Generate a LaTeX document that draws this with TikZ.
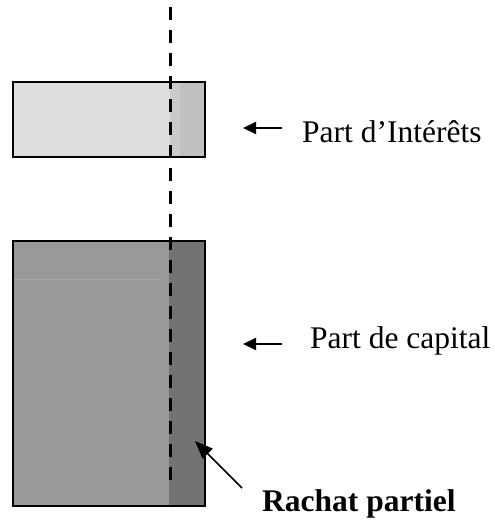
\documentclass[tikz,border=0pt]{standalone}
\usepackage{fontspec}
\setmainfont{Liberation Serif}
\usetikzlibrary{arrows.meta}
\begin{document}
\begin{tikzpicture}[x=1pt,y=-1pt,
  label/.style={anchor=base west,inner sep=0pt,font=\fontsize{31.5}{36}\selectfont},
  frame/.style={draw=black,line width=2pt},
  pointer/.style={line width=2pt,-{Triangle[length=13pt,width=12pt]}},
  cut/.style={line width=3pt,dash pattern=on 13pt off 10pt}]
\useasboundingbox (0,0) rectangle (495,522);

% interest block
\fill[fill={rgb,255:red,222;green,222;blue,222}] (13,82) rectangle (170,157);
\fill[fill={rgb,255:red,202;green,202;blue,202}] (170,82) rectangle (180,157);
\fill[fill={rgb,255:red,192;green,192;blue,192}] (180,82) rectangle (205,157);
\node[frame,minimum width=192pt,minimum height=75pt,inner sep=0pt] (interets) at (109,119.5) {};

% capital block
\fill[fill={rgb,255:red,153;green,153;blue,153}] (13,241) rectangle (169,506);
\fill[fill={rgb,255:red,115;green,115;blue,115}] (169,241) rectangle (205,506);
\draw[line width=1pt,color={rgb,255:red,165;green,165;blue,165}] (14,279) -- (162,279);
\node[frame,minimum width=192pt,minimum height=265pt,inner sep=0pt] (capital) at (109,373.5) {};

% cut line
\coordinate (cuttop) at (170,7);
\coordinate (cutbot) at (170,486);
\draw[cut] (cuttop) -- (cutbot);

% labels
\node[label] (tinterets) at (302,142) {Part d’Intérêts};
\node[label] (tcapital) at (310,348) {Part de capital};
\node[label,font=\fontsize{31.5}{36}\selectfont\bfseries] (trachat) at (262,511) {Rachat partiel};

% pointers
\coordinate (a1s) at (282,128);
\coordinate (a1e) at (243,128);
\draw[pointer] (a1s) -- (a1e);
\coordinate (a2s) at (282,344);
\coordinate (a2e) at (243,344);
\draw[pointer] (a2s) -- (a2e);
\coordinate (a3s) at (242,488);
\coordinate (a3e) at (195,441);
\draw[line width=1.6pt,-{Triangle[length=18pt,width=14pt]}] (a3s) -- (a3e);
\end{tikzpicture}
\end{document}
